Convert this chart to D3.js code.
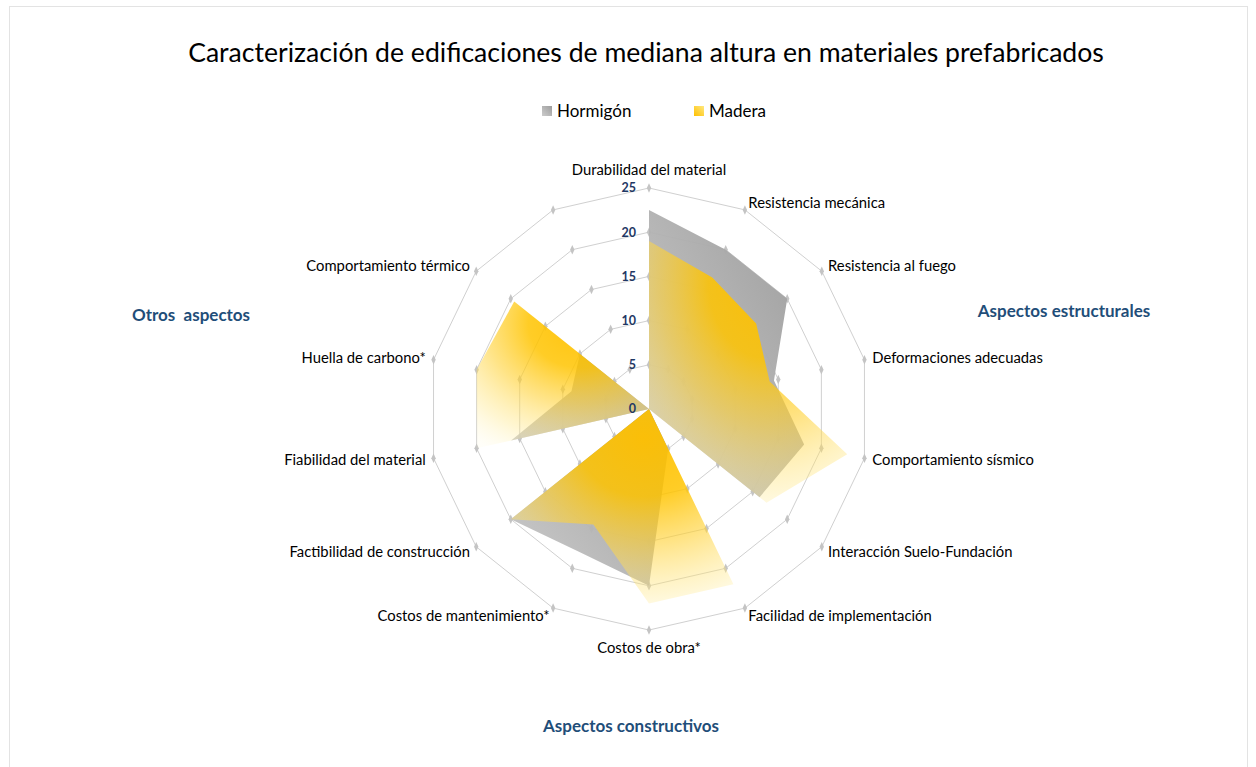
<!DOCTYPE html>
<html>
<head>
<meta charset="utf-8">
<script src="https://cdn.jsdelivr.net/npm/d3@7"></script>
<style>
  body { margin: 0; background: #fff; }
  text { font-family: Lato, "Open Sans", sans-serif; }
</style>
</head>
<body>
<div id="chart"></div>
<script>
const title = 'Caracterización de edificaciones de mediana altura en materiales prefabricados';

const categories = [
    'Durabilidad del material', 'Resistencia mecánica', 'Resistencia al fuego',
    'Deformaciones adecuadas', 'Comportamiento sísmico', 'Interacción Suelo-Fundación',
    'Facilidad de implementación', 'Costos de obra*', 'Costos de mantenimiento*',
    'Factibilidad de construcción', 'Fiabilidad del material', 'Huella de carbono*',
    'Comportamiento térmico', ''
];

const seriesNames = ['Hormigón', 'Madera'];
const hormigon = [22.5, 20, 20, 14.5, 18, 16, 5, 20, 18, 20, 16, 9, 10, 0];
const madera = [19, 16.5, 15.5, 14, 23, 17, 22, 22, 14.5, 20, 20, 20, 19.5, 0];

// each aspect group is drawn as its own filled wedge (index ranges of categories)
const groupNames = ['Aspectos estructurales', 'Aspectos constructivos', 'Otros  aspectos'];
const groupStart = [0, 6, 10];
const groupEnd = [5, 9, 12];

const ticks = [0, 5, 10, 15, 20, 25];

const width = 1256;
const height = 767;
const cx = 649;
const cy = 409;
const radius = 221;

const svg = d3.select('#chart')
    .append('svg')
    .attr('width', width)
    .attr('height', height);

const defs = svg.append('defs');

const grayGrad = defs.append('linearGradient')
    .attr('id', 'grad-gray')
    .attr('x1', 1).attr('y1', 0).attr('x2', 0).attr('y2', 1);
grayGrad.append('stop').attr('offset', 0).attr('stop-color', '#9c9c9c').attr('stop-opacity', 1);
grayGrad.append('stop').attr('offset', 1).attr('stop-color', '#c6c6c6').attr('stop-opacity', 0.9);

const yellowGrad = defs.append('radialGradient')
    .attr('id', 'grad-yellow')
    .attr('cx', 0.6).attr('cy', 0.15).attr('r', 1)
    .attr('fx', 0.6).attr('fy', 0.15);
yellowGrad.append('stop').attr('offset', 0).attr('stop-color', '#ffc000').attr('stop-opacity', 0.95);
yellowGrad.append('stop').attr('offset', 0.3).attr('stop-color', '#ffc400').attr('stop-opacity', 0.85);
yellowGrad.append('stop').attr('offset', 0.55).attr('stop-color', '#ffd238').attr('stop-opacity', 0.6);
yellowGrad.append('stop').attr('offset', 0.8).attr('stop-color', '#ffe680').attr('stop-opacity', 0.35);
yellowGrad.append('stop').attr('offset', 1).attr('stop-color', '#fff6c0').attr('stop-opacity', 0.1);

const legendGrad = defs.append('linearGradient')
    .attr('id', 'grad-yellow-legend')
    .attr('x1', 0).attr('y1', 1).attr('x2', 1).attr('y2', 0);
legendGrad.append('stop').attr('offset', 0).attr('stop-color', '#ffc000');
legendGrad.append('stop').attr('offset', 1).attr('stop-color', '#ffe880');

// chart border
svg.append('rect')
    .attr('x', 9.5).attr('y', 6.5)
    .attr('width', 1238).attr('height', 780)
    .attr('fill', 'none')
    .attr('stroke', '#e3e3e3');

svg.append('text')
    .attr('x', 646)
    .attr('y', 53)
    .attr('dy', '0.35em')
    .attr('text-anchor', 'middle')
    .attr('font-size', 26.6)
    .attr('fill', '#000')
    .text(title);

const n = categories.length;
const step = 2 * Math.PI / n;
const rScale = d3.scaleLinear().domain([0, 25]).range([0, radius]);

const g = svg.append('g').attr('transform', `translate(${cx},${cy})`);

// grid rings
const ring = d3.lineRadial()
    .angle((d, i) => i * step)
    .radius(d => rScale(d))
    .curve(d3.curveLinearClosed);

ticks.filter(t => t > 0).forEach(t => {
    g.append('path')
        .attr('d', ring(categories.map(() => t)))
        .attr('fill', 'none')
        .attr('stroke', '#d0d0d0')
        .attr('stroke-width', 1);
    categories.forEach((c, i) => {
        const a = i * step;
        g.append('path')
            .attr('d', d3.symbol(d3.symbolDiamond, 26)())
            .attr('transform', `translate(${rScale(t) * Math.sin(a)},${-rScale(t) * Math.cos(a)}) scale(0.8,1)`)
            .attr('fill', '#c4c4c4');
    });
});

// series wedges
const area = d3.lineRadial()
    .angle((d, i) => i * step)
    .radius(d => rScale(d))
    .curve(d3.curveLinearClosed);

function groupValues(values, k) {
    return values.map((v, i) => (i >= groupStart[k] && i <= groupEnd[k]) ? v : 0);
}

[hormigon, madera].forEach((values, s) => {
    groupNames.forEach((name, k) => {
        g.append('path')
            .attr('d', area(groupValues(values, k)))
            .attr('fill', s === 0 ? 'url(#grad-gray)' : 'url(#grad-yellow)');
    });
});

// tick labels along the first axis
g.selectAll('.tick-label')
    .data(ticks)
    .enter().append('text')
    .attr('class', 'tick-label')
    .attr('x', -13)
    .attr('y', d => -rScale(d))
    .attr('dy', '0.35em')
    .attr('text-anchor', 'end')
    .attr('font-size', 12.5)
    .attr('font-weight', 'bold')
    .attr('fill', '#1f3864')
    .text(d => d);

// category labels
g.selectAll('.cat-label')
    .data(categories)
    .enter().append('text')
    .attr('class', 'cat-label')
    .attr('x', (d, i) => (radius + 8) * Math.sin(i * step))
    .attr('y', (d, i) => {
        const c = Math.cos(i * step);
        const base = -(radius + 8) * c;
        if (Math.abs(Math.sin(i * step)) < 0.01) return base - 10 * c;
        return base;
    })
    .attr('dy', '0.35em')
    .attr('text-anchor', (d, i) => {
        const s = Math.sin(i * step);
        if (Math.abs(s) < 0.01) return 'middle';
        return s > 0 ? 'start' : 'end';
    })
    .attr('font-size', 14.8)
    .attr('fill', '#000')
    .text(d => d);

// legend
const legendX = [542, 694];
const legend = svg.selectAll('.legend')
    .data(seriesNames)
    .enter().append('g')
    .attr('class', 'legend')
    .attr('transform', (d, i) => `translate(${legendX[i]},111)`);

legend.append('rect')
    .attr('x', 0).attr('y', -5)
    .attr('width', 10).attr('height', 10)
    .attr('fill', (d, i) => i === 0 ? 'url(#grad-gray)' : 'url(#grad-yellow-legend)');

legend.append('text')
    .attr('x', 15)
    .attr('dy', '0.35em')
    .attr('font-size', 17)
    .attr('fill', '#000')
    .text(d => d);

// group labels
const groupLabelX = [1064, 631, 191];
const groupLabelY = [311, 726, 315];
svg.selectAll('.group-label')
    .data(groupNames)
    .enter().append('text')
    .attr('class', 'group-label')
    .attr('x', (d, i) => groupLabelX[i])
    .attr('y', (d, i) => groupLabelY[i])
    .attr('dy', '0.35em')
    .attr('text-anchor', 'middle')
    .attr('font-size', 17)
    .attr('font-weight', 'bold')
    .attr('fill', '#1f4e79')
    .style('white-space', 'pre')
    .text(d => d);
</script>
</body>
</html>
